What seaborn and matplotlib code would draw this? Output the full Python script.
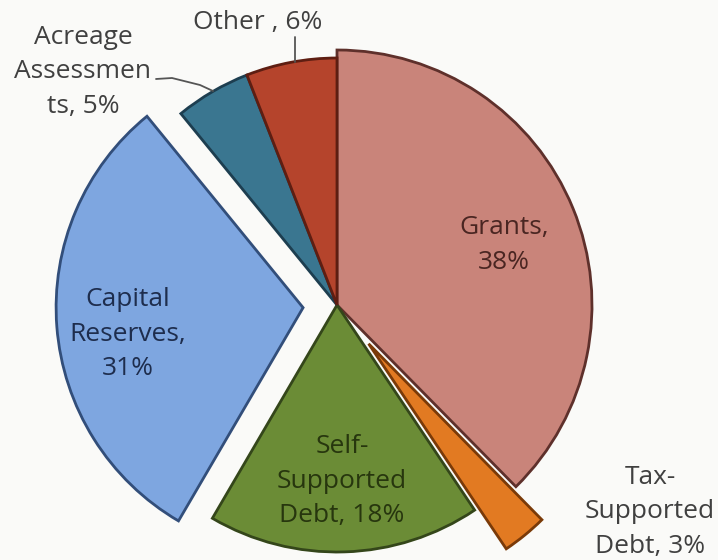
import matplotlib.pyplot as plt
import seaborn as sns

sns.set_theme(style="white")
plt.rcParams['font.family'] = ['Open Sans', 'DejaVu Sans']

# slice data, clockwise from 12 o'clock
labels = ['Grants', 'Tax-Supported Debt', 'Self-Supported Debt',
          'Capital Reserves', 'Acreage Assessments', 'Other']
values = [38, 3, 18, 31, 5, 6]
colors = ['#c9847a', '#e27a22', '#6b8c36', '#7ea6e0', '#3a7690', '#b5442c']
edges = ['#5e302b', '#7a3a08', '#34461a', '#324e7a', '#1d3e50', '#5e1e12']
explode = [0, 50, 0, 34, 0, 0]   # offsets in pixels

fig = plt.figure(figsize=(7.18, 5.6), dpi=100)
fig.patch.set_facecolor('#fafaf8')
ax = fig.add_axes([0, 0, 1, 1])
ax.set_facecolor('#fafaf8')

wedges, _ = ax.pie(
    values,
    colors=colors,
    explode=explode,
    startangle=90,
    counterclock=False,
    center=(337, 255),
    radius=247,
    wedgeprops=dict(edgecolor='white', linewidth=1.5),
    frame=True,
)
for w, ec in zip(wedges, edges):
    w.set_edgecolor(ec)
    w.set_linewidth(2)
# the tilted original shows the front slice a bit taller
wedges[0].set_radius(255)

ax.set_xlim(0, 718)
ax.set_ylim(0, 560)
ax.set_aspect('equal')
ax.axis('off')

fs = 19
ls = 1.52
ax.text(504, 315, 'Grants,\n38%', ha='center', va='center', fontsize=fs,
        color='#4a2622', linespacing=ls)
ax.text(128, 226, 'Capital\nReserves,\n31%', ha='center', va='center',
        fontsize=fs, color='#1e2d4d', linespacing=ls)
ax.text(342, 79, 'Self-\nSupported\nDebt, 18%', ha='center', va='center',
        fontsize=fs, color='#27360e', linespacing=ls)
ax.text(650, 48, 'Tax-\nSupported\nDebt, 3%', ha='center', va='center',
        fontsize=fs, color='#404040', linespacing=ls)
ax.text(83, 488, 'Acreage\nAssessmen\nts, 5%', ha='center', va='center',
        fontsize=fs, color='#404040', linespacing=ls)
ax.text(258, 538, 'Other , 6%', ha='center', va='center',
        fontsize=fs, color='#404040')

# leader lines
ax.plot([156, 172, 200, 213], [481, 482, 475, 469], color='#555555', lw=1.3)
ax.plot([295, 295], [523, 498], color='#555555', lw=1.3)

fig.savefig('out.png', dpi=100, facecolor=fig.get_facecolor())
